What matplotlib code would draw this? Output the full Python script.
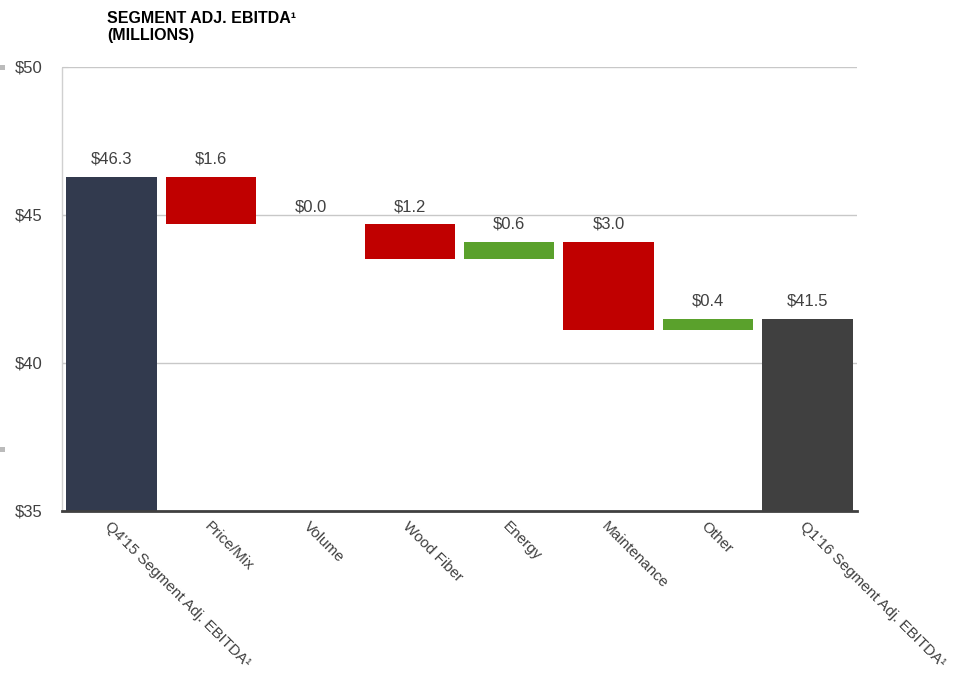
import matplotlib
matplotlib.use("Agg")
import matplotlib.pyplot as plt
import matplotlib.patches as mpatches

plt.rcParams['font.family'] = ['Liberation Sans', 'DejaVu Sans']

categories = ["Q4'15 Segment Adj. EBITDA\u00b9", "Price/Mix", "Volume", "Wood Fiber",
              "Energy", "Maintenance", "Other", "Q1'16 Segment Adj. EBITDA\u00b9"]
start_value = 46.3
changes = [-1.6, 0.0, -1.2, 0.6, -3.0, 0.4]
end_value = 41.5
yticks = [35, 40, 45, 50]

c_start = "#323a4e"
c_end = "#404040"
c_neg = "#c00000"
c_pos = "#5aa12c"
text_c = "#404040"

fig = plt.figure(figsize=(9.65, 6.77), dpi=100)
ax = fig.add_axes([62 / 965, 1 - 511 / 677, 795 / 965, 444 / 677])
ax.set_xlim(-0.5, len(categories) - 0.5)
ax.set_ylim(35, 50)

width = 0.91
bottoms, heights, colors, labels = [], [], [], []
bottoms.append(35); heights.append(start_value - 35); colors.append(c_start)
labels.append(f"${start_value:.1f}")
level = start_value
for ch in changes:
    new = level + ch
    bottoms.append(min(level, new)); heights.append(abs(ch))
    colors.append(c_pos if ch > 0 else c_neg)
    labels.append(f"${abs(ch):.1f}")
    level = new
bottoms.append(35); heights.append(end_value - 35); colors.append(c_end)
labels.append(f"${end_value:.1f}")

xs = list(range(len(categories)))
ax.bar(xs, heights, bottom=bottoms, width=width, color=colors, zorder=3, linewidth=0)
for x, b, h, lab in zip(xs, bottoms, heights, labels):
    ax.annotate(lab, (x, b + h), xytext=(0, 7), textcoords="offset points",
                ha="center", va="bottom", fontsize=12, color=text_c)

ax.set_yticks(yticks)
ax.set_yticklabels([f"${v}" for v in yticks], fontsize=12, color=text_c)
ax.yaxis.grid(True, color="#c8c8c8", linewidth=1, zorder=0)
ax.tick_params(axis="y", length=4, color="#c8c8c8", direction="in", pad=14)
ax.set_xticks(xs)
ax.set_xticklabels(categories, rotation=-45, ha="left", va="top",
                   rotation_mode="anchor", fontsize=11, color=text_c)
ax.tick_params(axis="x", length=0, pad=6)

for s in ["top", "right"]:
    ax.spines[s].set_visible(False)
ax.spines["left"].set_color("#d0d0d0")
ax.spines["left"].set_linestyle((0, (1, 1)))
ax.spines["left"].set_linewidth(1)
ax.spines["bottom"].set_color("#404040")
ax.spines["bottom"].set_linewidth(2)
ax.spines["bottom"].set_zorder(4)

fig.text(107 / 965, 1 - 27 / 677, "SEGMENT ADJ. EBITDA\u00b9\n(MILLIONS)",
         fontsize=11.5, fontweight="bold", color="#000000", va="center", ha="left",
         linespacing=1.2)

# small grey markers at the left edge
for yy in [67, 449]:
    fig.patches.append(mpatches.Rectangle((0, 1 - (yy + 3) / 677), 5 / 965, 5 / 677,
                                          transform=fig.transFigure, color="#bbbbbb",
                                          linewidth=0))

fig.savefig("out.png", dpi=100)
